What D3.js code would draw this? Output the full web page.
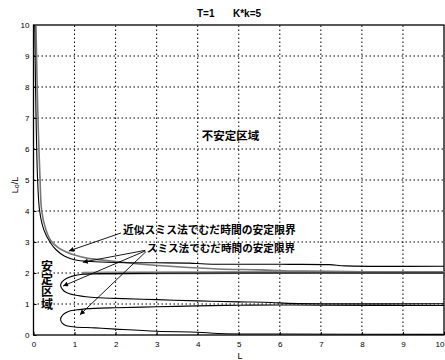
<!DOCTYPE html>
<html><head><meta charset="utf-8">
<script src="https://cdn.jsdelivr.net/npm/d3@7"></script>
<style>
body{margin:0;background:#fff;}
svg{display:block;}
text{font-family:"Liberation Sans",Arial,sans-serif;}
.jp{font-family:"Noto Sans CJK JP","Noto Sans",sans-serif;font-weight:bold;}
</style></head>
<body><svg id="c" width="445" height="360"></svg>
<script>
const xTicks = [0,1,2,3,4,5,6,7,8,9,10];
const yTicks = [0,1,2,3,4,5,6,7,8,9,10];
const titleParts = ["T=1", "K*k=5"];

// Smith method stability limit (black)
const smithUpper = [[0.03,10],[0.05,8],[0.07,6.5],[0.1,5],[0.15,4],[0.25,3.4],[0.4,3.0],[0.55,2.75],[0.75,2.55],[1.0,2.43],[1.4,2.37],[2,2.34],[3,2.33],[3.8,2.32],[4.2,2.29],[6,2.28],[7.2,2.27],[7.6,2.23],[10,2.22]];
const smithLobe1 = [[10,2.0],[6,2.0],[3,1.99],[1.6,1.98],[1.2,1.96],[0.95,1.9],[0.8,1.82],[0.7,1.72],[0.66,1.61],[0.7,1.48],[0.8,1.37],[1.0,1.29],[1.4,1.22],[2,1.18],[3,1.14],[4,1.1],[5,1.07],[5.8,1.05],[6.2,1.02],[10,1.01]];
const smithLobe2 = [[10,0.95],[7,0.96],[6,0.97],[5,0.96],[4,0.94],[3,0.91],[2,0.88],[1.5,0.86],[1.1,0.82],[0.85,0.76],[0.72,0.66],[0.66,0.52],[0.7,0.38],[0.8,0.3],[1.0,0.26],[1.5,0.23],[2,0.19],[3,0.12],[4,0.09],[4.5,0.05],[6,0.03],[10,0.02]];
// Approximate Smith method stability limit (grey)
const approxUpper = [[0.06,10],[0.09,8],[0.12,6.5],[0.16,5],[0.2,4],[0.3,3.4],[0.42,3.05],[0.6,2.82],[0.8,2.68],[1.0,2.58],[1.3,2.48],[1.8,2.4],[2.5,2.3],[3.5,2.2],[4.5,2.13],[5.5,2.1],[6.5,2.06],[8,2.04],[10,2.03]];
const approxBand = [[1.2,1.99],[2,2.0],[4,2.01],[6,2.02],[8,2.02],[10,2.02]];

// annotations (data units)
const labelUnstable = {text:"不安定区域", L:4.1, r:6.45};
const labelStable = {text:"安定区域", L:0.33, r:2.4};
const labelApprox = {text:"近似スミス法でむだ時間の安定限界", L:2.18, r:3.39};
const labelSmith = {text:"スミス法でむだ時間の安定限界", L:2.76, r:2.81};
const arrowsApprox = [{from:[2.13,3.29], to:[0.86,2.71]}];
const arrowsSmith = [{from:[2.72,2.73], to:[1.2,2.35]},{from:[2.72,2.71], to:[0.72,1.58]},{from:[2.74,2.69], to:[1.13,0.65]}];

const svg = d3.select("#c");
const x = d3.scaleLinear().domain([0,10]).range([33.5,444]);
const y = d3.scaleLinear().domain([0,10]).range([335,25]);

svg.append("defs").append("marker").attr("id","ah").attr("viewBox","0 0 10 10")
  .attr("refX",10).attr("refY",5).attr("markerWidth",7).attr("markerHeight",5)
  .attr("orient","auto").attr("markerUnits","userSpaceOnUse")
  .append("path").attr("d","M0,0L10,5L0,10z").attr("fill","#000");

// grid
const g = svg.append("g");
g.selectAll(".gx").data(xTicks.slice(1,-1)).join("line")
  .attr("x1",d=>x(d)).attr("x2",d=>x(d)).attr("y1",y(0)).attr("y2",y(10))
  .attr("stroke","#000").attr("stroke-width",1).attr("stroke-dasharray","1.5,2.5");
g.selectAll(".gy").data(yTicks.slice(1,-1)).join("line")
  .attr("y1",d=>y(d)).attr("y2",d=>y(d)).attr("x1",x(0)).attr("x2",x(10))
  .attr("stroke","#000").attr("stroke-width",1).attr("stroke-dasharray","1.5,2.5");

// axes
const ax = svg.append("g").attr("transform",`translate(0,${y(0)})`)
  .call(d3.axisBottom(x).tickValues(xTicks).tickSize(-3).tickPadding(6).tickFormat(d3.format("d")));
const ay = svg.append("g").attr("transform",`translate(${x(0)},0)`)
  .call(d3.axisLeft(y).tickValues(yTicks).tickSize(-3).tickPadding(4).tickFormat(d3.format("d")));
[ax,ay].forEach(a=>{a.select(".domain").remove();a.selectAll("text").attr("font-size",8).attr("fill","#000");a.selectAll("line").attr("stroke","#000");});
ax.selectAll(".tick text").filter(d=>d===10).attr("text-anchor","end");
svg.append("rect").attr("x",x(0)).attr("y",y(10)).attr("width",x(10)-x(0)).attr("height",y(0)-y(10))
  .attr("fill","none").attr("stroke","#000").attr("stroke-width",1.3);

// curves
const line = d3.line().x(d=>x(d[0])).y(d=>y(d[1])).curve(d3.curveCatmullRom.alpha(0.5));
svg.append("path").datum(approxBand).attr("d",line).attr("fill","none").attr("stroke","#8a8a8a").attr("stroke-width",3);
svg.append("path").datum(approxUpper).attr("d",line).attr("fill","none").attr("stroke","#777").attr("stroke-width",1.6);
[smithUpper,smithLobe1,smithLobe2].forEach(dd=>{
  svg.append("path").datum(dd).attr("d",line).attr("fill","none").attr("stroke","#000").attr("stroke-width",1.1);
});

// arrows
arrowsApprox.concat(arrowsSmith).forEach(a=>{
  svg.append("line").attr("x1",x(a.from[0])).attr("y1",y(a.from[1])).attr("x2",x(a.to[0])).attr("y2",y(a.to[1]))
    .attr("stroke","#000").attr("stroke-width",0.9).attr("marker-end","url(#ah)");
});

// labels
svg.append("text").attr("class","jp").attr("x",x(labelUnstable.L)).attr("y",y(labelUnstable.r)+4.5)
  .attr("font-size",11.5).text(labelUnstable.text);
svg.append("text").attr("class","jp").attr("x",x(labelApprox.L)).attr("y",y(labelApprox.r)+4)
  .attr("font-size",10.8).text(labelApprox.text);
svg.append("text").attr("class","jp").attr("x",x(labelSmith.L)).attr("y",y(labelSmith.r)+4)
  .attr("font-size",10.6).text(labelSmith.text);
svg.append("text").attr("class","jp").attr("x",x(labelStable.L)).attr("y",y(labelStable.r))
  .attr("font-size",12).style("writing-mode","vertical-rl").attr("letter-spacing",0.5).text(labelStable.text);

// title & axis labels
svg.append("text").attr("x",197).attr("y",17).attr("font-size",10).attr("font-weight","bold").text(titleParts[0]);
svg.append("text").attr("x",233).attr("y",17).attr("font-size",10).attr("font-weight","bold").text(titleParts[1]);
svg.append("text").attr("x",240).attr("y",359).attr("font-size",9).attr("text-anchor","middle").text("L");
const yl = svg.append("text").attr("transform","translate(18,185) rotate(-90)").attr("font-size",9).attr("text-anchor","middle");
yl.append("tspan").text("L");
yl.append("tspan").attr("font-size",7).attr("dy",1).text("o");
yl.append("tspan").attr("dy",-1).text("/L");
</script></body></html>
